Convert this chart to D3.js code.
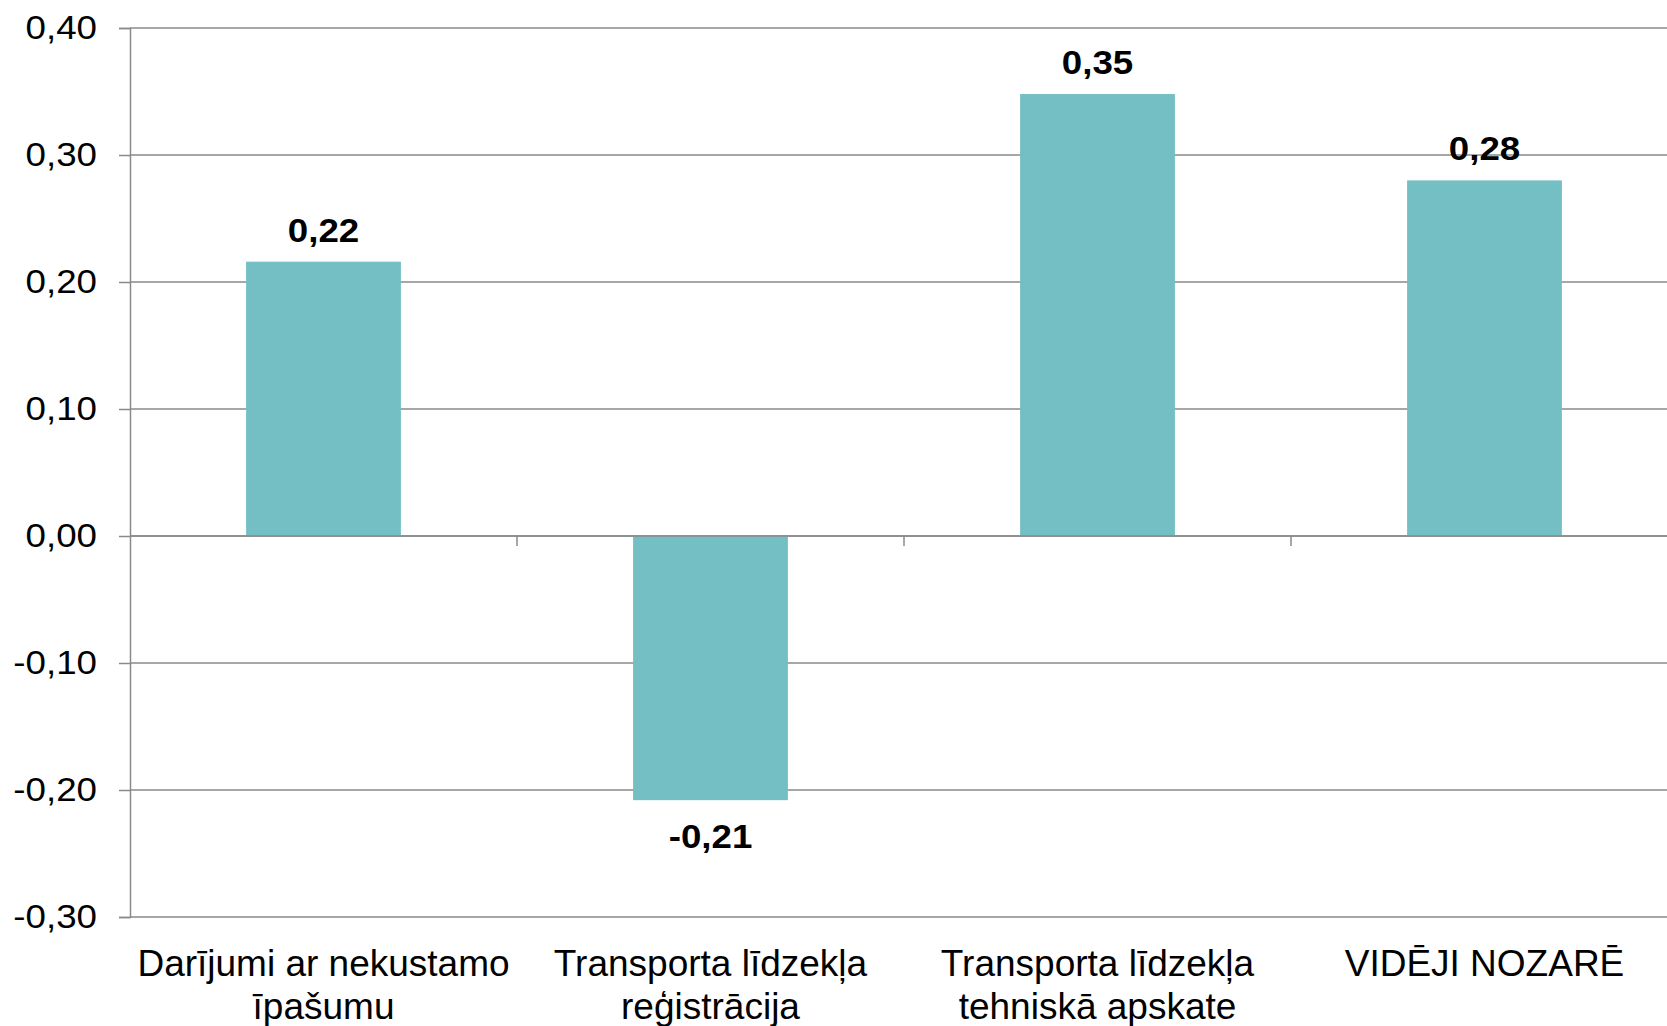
<!DOCTYPE html>
<html>
<head>
<meta charset="utf-8">
<script src="https://cdn.jsdelivr.net/npm/d3@7"></script>
<style>
  body { margin: 0; background: #fff; }
  text { font-family: "Liberation Sans", Arial, sans-serif; fill: #000; }
</style>
</head>
<body>
<div id="chart"></div>
<script>
// chart data
var categories = ["Darījumi ar nekustamo īpašumu", "Transporta līdzekļa reģistrācija",
    "Transporta līdzekļa tehniskā apskate", "VIDĒJI NOZARĒ"];
var categoryLines = [["Darījumi ar nekustamo", "īpašumu"], ["Transporta līdzekļa", "reģistrācija"],
    ["Transporta līdzekļa", "tehniskā apskate"], ["VIDĒJI NOZARĒ"]];
var values = [0.216, -0.208, 0.348, 0.28];
var valueLabels = ["0,22", "-0,21", "0,35", "0,28"];
var yTicks = [-0.3, -0.2, -0.1, 0, 0.1, 0.2, 0.3, 0.4];

var width = 1667, height = 1026;
var plotLeft = 130, plotRight = 1678, plotTop = 28, plotBottom = 917;
var gridColor = "#8a8a8a", barColor = "#73bfc4";
var stretch = 1.08; // numbers in the original look a bit wide

var lv = d3.formatLocale({decimal: ",", thousands: " ", grouping: [3], currency: ["", ""], minus: "-"});
var fmt = lv.format(".2f");

var svg = d3.select("#chart").append("svg")
    .attr("width", width)
    .attr("height", height);

var y = d3.scaleLinear().domain([-0.3, 0.4]).range([plotBottom, plotTop]);
var x = d3.scaleBand().domain(categories).range([plotLeft, plotRight])
    .paddingInner(0.6).paddingOuter(0.3);

// gridlines
svg.append("g").selectAll("line").data(yTicks).enter().append("line")
    .attr("x1", plotLeft).attr("x2", plotRight)
    .attr("y1", d => y(d)).attr("y2", d => y(d))
    .attr("stroke", gridColor).attr("stroke-width", 1.5);

// y axis
var yAxis = svg.append("g")
    .attr("transform", "translate(" + plotLeft + ",0)")
    .call(d3.axisLeft(y).tickValues(yTicks).tickSize(11).tickFormat(fmt));
yAxis.select(".domain").attr("stroke", gridColor).attr("stroke-width", 1.5);
yAxis.selectAll(".tick line").attr("stroke", gridColor).attr("stroke-width", 1.5);
yAxis.selectAll(".tick text")
    .attr("x", -33 / stretch)
    .attr("transform", "scale(" + stretch + ",1)")
    .style("font-size", "34px")
    .style("font-family", "'Liberation Sans', Arial, sans-serif")
    .attr("fill", "#000");

// bars
svg.append("g").selectAll("rect").data(values).enter().append("rect")
    .attr("x", (d, i) => x(categories[i]))
    .attr("width", x.bandwidth())
    .attr("y", d => y(Math.max(0, d)))
    .attr("height", d => Math.abs(y(d) - y(0)))
    .attr("fill", barColor);

// zero line with ticks between categories
svg.append("line")
    .attr("x1", plotLeft).attr("x2", plotRight)
    .attr("y1", y(0)).attr("y2", y(0))
    .attr("stroke", gridColor).attr("stroke-width", 1.5);
svg.append("g").selectAll("line").data(categories.slice(1)).enter().append("line")
    .attr("x1", d => x(d) - x.step() * x.paddingInner() / 2)
    .attr("x2", d => x(d) - x.step() * x.paddingInner() / 2)
    .attr("y1", y(0)).attr("y2", y(0) + 10)
    .attr("stroke", gridColor).attr("stroke-width", 1.5);

// value labels
svg.append("g").selectAll("text").data(values).enter().append("text")
    .attr("transform", (d, i) => "translate(" + (x(categories[i]) + x.bandwidth() / 2) + ","
        + (d >= 0 ? y(d) - 20 : y(d) + 48) + ") scale(" + stretch + ",1)")
    .attr("text-anchor", "middle")
    .style("font-size", "34px")
    .style("font-weight", "bold")
    .text((d, i) => valueLabels[i]);

// category labels
var cat = svg.append("g").selectAll("text").data(categoryLines).enter().append("text")
    .attr("text-anchor", "middle")
    .style("font-size", "37px")
    .attr("transform", (d, i) => "translate(" + (x(categories[i]) + x.bandwidth() / 2) + "," + (plotBottom + 59) + ")");
cat.selectAll("tspan").data(d => d).enter().append("tspan")
    .attr("x", 0)
    .attr("y", (d, j) => j * 43)
    .text(d => d);
</script>
</body>
</html>
